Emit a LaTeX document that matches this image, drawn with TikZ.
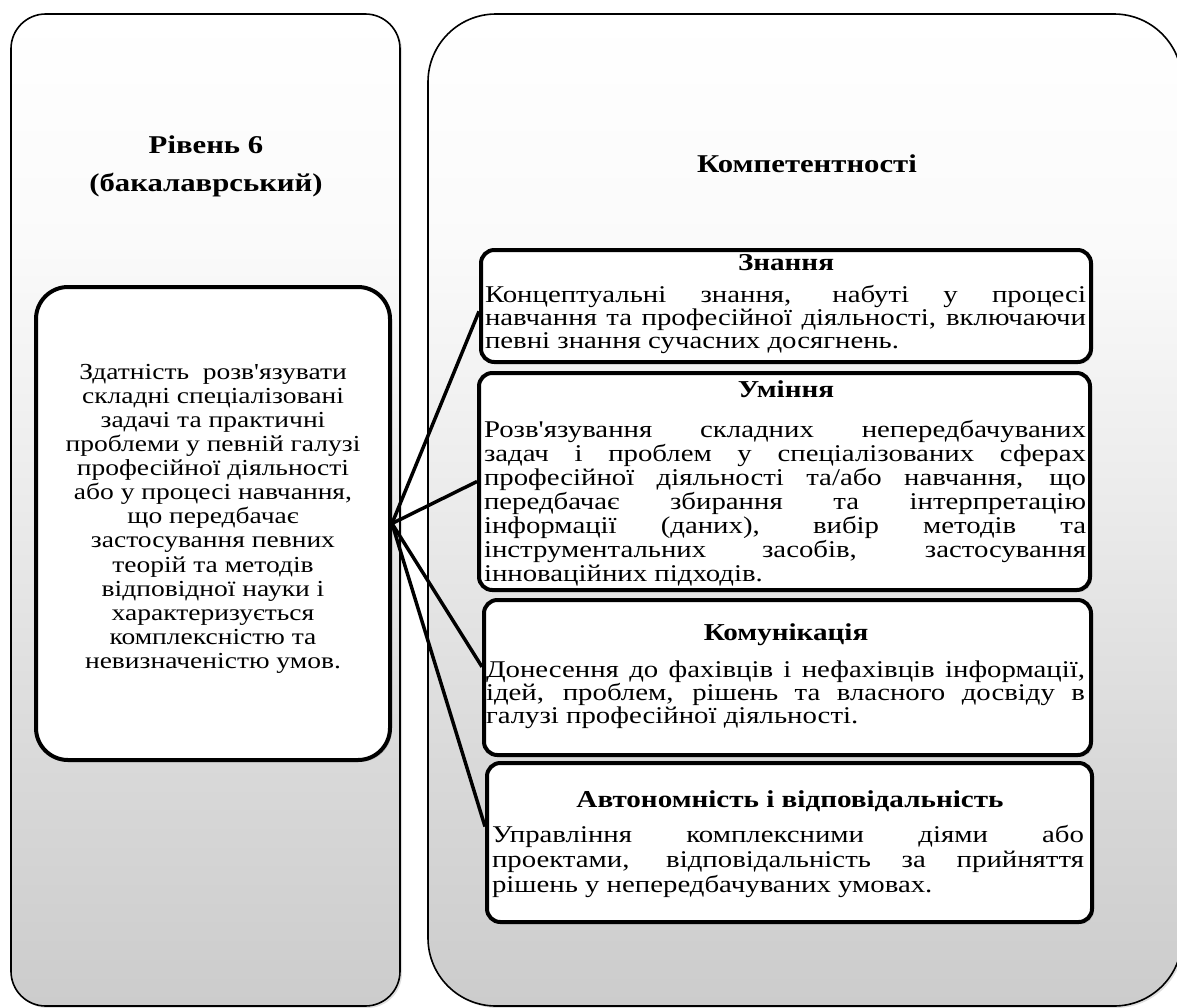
\documentclass[tikz,border=0pt]{standalone}
\usepackage{fontspec}
\setmainfont{Liberation Serif}[FakeStretch=1.2, Ligatures=TeXOff]
\usetikzlibrary{shadows}
\definecolor{gA}{gray}{0.80}
\definecolor{gB}{gray}{0.85}
\definecolor{gC}{gray}{0.92}
\definecolor{gD}{gray}{0.98}
\pgfdeclareverticalshading{outershade}{100bp}{color(0bp)=(gA); color(25bp)=(gA); color(37bp)=(gB); color(50bp)=(gC); color(63bp)=(gD); color(75bp)=(white); color(100bp)=(white)}
\newcommand{\jl}[2]{\makebox[#1][s]{#2}}
\tikzset{
  outerbox/.style={draw=black, line width=1.2pt, shading=outershade,
    drop shadow={opacity=0.25, shadow xshift=1.5pt, shadow yshift=-1.5pt}},
  innerbox/.style={draw=black, line width=3pt, fill=white, rectangle, inner sep=0pt,
    drop shadow={opacity=0.3, shadow xshift=1.5pt, shadow yshift=-1.5pt}},
  subbox/.style={innerbox, rounded corners=10pt},
  txt/.style={inner sep=0pt, outer sep=0pt},
  bigtitle/.style={txt, font=\fontsize{19.2pt}{26pt}\selectfont\bfseries, anchor=base},
  boxtitle/.style={txt, font=\fontsize{18.2pt}{18pt}\selectfont\bfseries, anchor=base},
  link/.style={line width=2.6pt, draw=black}
}
\begin{document}
\begin{tikzpicture}[x=0.75pt, y=-0.75pt]
\useasboundingbox (0,0) rectangle (1177,1007);
% outer panels
\path[outerbox, rounded corners=26pt] (11,14) rectangle (400,1006);
\path[outerbox, rounded corners=51pt] (428,14) rectangle (1182,1006);
\node[bigtitle] (lvl1) at (206,153) {Рівень 6};
\node[bigtitle] (lvl2) at (206,191) {(бакалаврський)};
\node[bigtitle] (comp) at (807,172) {Компетентності};
% centre box
\node[innerbox, rounded corners=24pt, minimum width=265.5pt, minimum height=354.75pt] (ctr) at (213,523.5) {};
\node[txt, anchor=base] (ctrtxt) at (213,379) {\parbox[t]{262pt}{\centering\fontsize{17.2pt}{18.1pt}\selectfont
Здатність\ \ розв'язувати\\
складні спеціалізовані\\
задачі та практичні\\
проблеми у певній галузі\\
професійної діяльності\\
або у процесі навчання,\\
що передбачає\\
застосування певних\\
теорій та методів\\
відповідної науки і\\
характеризується\\
комплексністю та\\
невизначеністю умов.}};
% sub boxes
\node[subbox, minimum width=457.5pt, minimum height=84pt] (b1) at (786,306) {};
\node[subbox, minimum width=458.25pt, minimum height=162.75pt] (b2) at (784.5,481.5) {};
\node[subbox, minimum width=455.25pt, minimum height=116.25pt] (b3) at (787.5,677.5) {};
\node[subbox, minimum width=453.75pt, minimum height=119.25pt] (b4) at (789.5,842.5) {};
% box 1
\node[boxtitle] (b1t) at (786,270) {Знання};
\node[txt, anchor=base west] (b1x) at (485,302) {\parbox[t]{450.75pt}{\fontsize{18pt}{17.4pt}\selectfont
\jl{450.75pt}{Концептуальні знання, набуті у процесі}\\
\jl{450.75pt}{навчання та професійної діяльності, включаючи}\\
певні знання сучасних досягнень.}};
% box 2
\node[boxtitle] (b2t) at (786,397) {Уміння};
\node[txt, anchor=base west] (b2x) at (484,437) {\parbox[t]{451.5pt}{\fontsize{18pt}{18pt}\selectfont
\jl{451.5pt}{Розв'язування складних непередбачуваних}\\
\jl{451.5pt}{задач і проблем у спеціалізованих сферах}\\
\jl{451.5pt}{професійної діяльності та/або навчання, що}\\
\jl{451.5pt}{передбачає збирання та інтерпретацію}\\
\jl{451.5pt}{інформації (даних), вибір методів та}\\
\jl{451.5pt}{інструментальних засобів, застосування}\\
інноваційних підходів.}};
% box 3
\node[boxtitle] (b3t) at (786,640) {Комунікація};
\node[txt, anchor=base west] (b3x) at (486,677) {\parbox[t]{449.25pt}{\fontsize{18pt}{17.4pt}\selectfont
\jl{449.25pt}{Донесення до фахівців і нефахівців інформації,}\\
\jl{449.25pt}{ідей, проблем, рішень та власного досвіду в}\\
галузі професійної діяльності.}};
% box 4
\node[boxtitle] (b4t) at (790,807) {Автономність і відповідальність};
\node[txt, anchor=base west] (b4x) at (492,842) {\parbox[t]{444pt}{\fontsize{18pt}{18.75pt}\selectfont
\jl{444pt}{Управління комплексними діями або}\\
\jl{444pt}{проектами, відповідальність за прийняття}\\
рішень у непередбачуваних умовах.}};
% connectors
\draw[link] (ctr.east) -- (b1.181.3);
\draw[link] (ctr.east) -- (b2.180.4);
\draw[link] (ctr.east) -- (b3.178.3);
\draw[link] (ctr.east) -- (b4.177.7);
\end{tikzpicture}
\end{document}
